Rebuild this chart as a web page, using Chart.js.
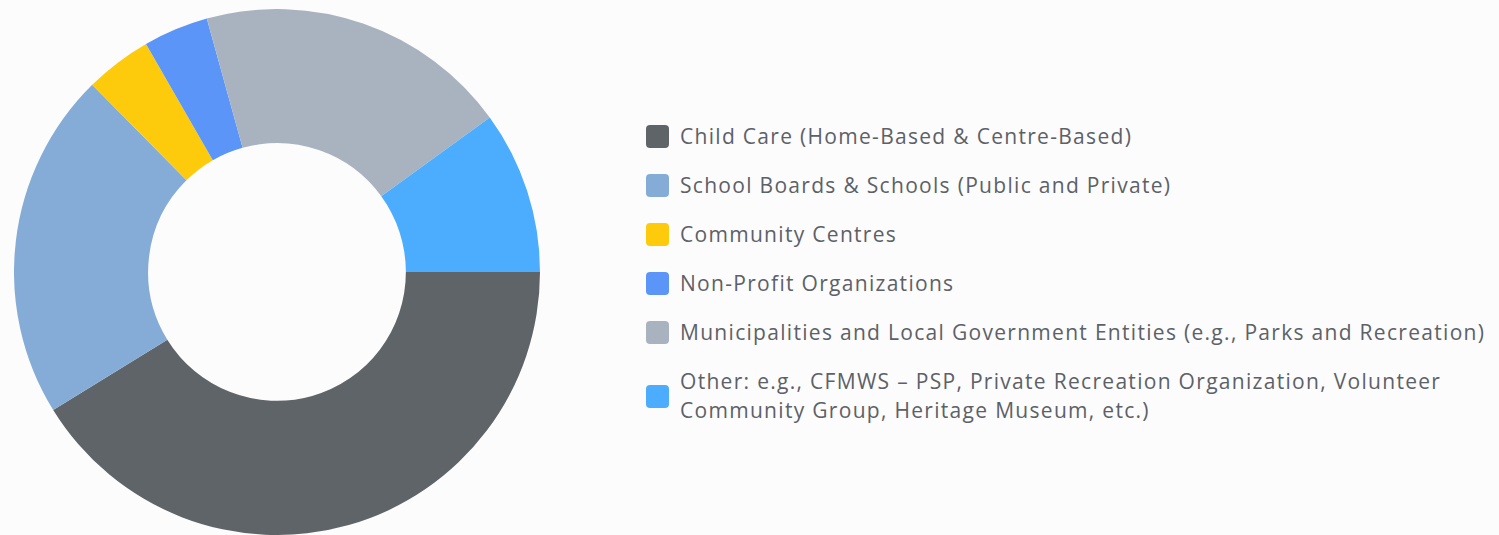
<!DOCTYPE html>
<html>
<head>
<meta charset="utf-8">
<script src="https://cdn.jsdelivr.net/npm/chart.js@4/dist/chart.umd.min.js"></script>
<style>
  html, body { margin: 0; padding: 0; background: #fdfcfc; }
  body { width: 1499px; height: 535px; position: relative; overflow: hidden; font-family: 'Open Sans', Lato, sans-serif; }
  #donut { position: absolute; left: 14px; top: 9px; width: 526px; height: 526px; }
  #legend { position: absolute; left: 646px; top: 122px; margin: 0; padding: 0; list-style: none; }
  #legend li { display: flex; align-items: center; margin: 0 0 20px 0; color: #5c6168; font-size: 21px; line-height: 29px; letter-spacing: 1.3px; }
  #legend .box { flex: 0 0 auto; width: 23px; height: 23px; border-radius: 4px; margin-right: 11px; }
  #legend .txt { max-width: 830px; }
</style>
</head>
<body>
<div id="donut"><canvas id="c"></canvas></div>
<ul id="legend"></ul>
<script>
// data
const categories = [
  'Child Care (Home-Based & Centre-Based)',
  'School Boards & Schools (Public and Private)',
  'Community Centres',
  'Non-Profit Organizations',
  'Municipalities and Local Government Entities (e.g., Parks and Recreation)',
  'Other: e.g., CFMWS \u2013 PSP, Private Recreation Organization, Volunteer Community Group, Heritage Museum, etc.)'
];
const shares = [41.2, 21.4, 4.1, 4.0, 19.3, 10.0];
const colors = ['#5f6469', '#85acd7', '#fecb0c', '#5b95f7', '#a9b3bf', '#4cadff'];

// simple html legend built from chart's own labels
const htmlLegend = {
  id: 'htmlLegend',
  afterUpdate(chart) {
    const ul = document.getElementById('legend');
    ul.innerHTML = '';
    const items = chart.options.plugins.legend.labels.generateLabels(chart);
    items.forEach(item => {
      const li = document.createElement('li');
      const box = document.createElement('span');
      box.className = 'box';
      box.style.background = item.fillStyle;
      const txt = document.createElement('span');
      txt.className = 'txt';
      txt.textContent = item.text;
      li.appendChild(box);
      li.appendChild(txt);
      ul.appendChild(li);
    });
  }
};

new Chart(document.getElementById('c').getContext('2d'), {
  type: 'doughnut',
  data: {
    labels: categories,
    datasets: [{
      data: shares,
      backgroundColor: colors,
      borderWidth: 0
    }]
  },
  options: {
    responsive: true,
    maintainAspectRatio: false,
    animation: false,
    rotation: 90,
    cutout: '49%',
    layout: { padding: 0 },
    plugins: {
      legend: { display: false },
      tooltip: { enabled: false }
    }
  },
  plugins: [htmlLegend]
});
</script>
</body>
</html>
